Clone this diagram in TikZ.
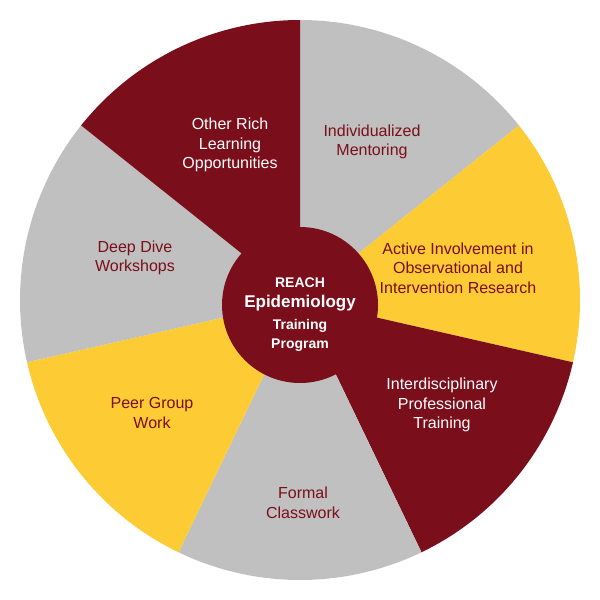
\documentclass[tikz,border=0pt]{standalone}
\usepackage{fontspec}
\setmainfont{Liberation Sans}
\definecolor{maroon}{HTML}{7A0E1B}
\definecolor{grayc}{HTML}{C0C0C0}
\definecolor{yel}{HTML}{FDCB33}
\begin{document}
\begin{tikzpicture}[x=1pt,y=-1pt,
  lab/.style={align=center,font=\fontsize{16}{19.5}\selectfont},
  onlight/.style={lab,text=maroon},
  ondark/.style={lab,text=white}]
\useasboundingbox (0,0) rectangle (600,600);
\coordinate (c) at (300,300);
\foreach \s/\col in {0/grayc,1/yel,2/maroon,3/grayc,4/yel,5/grayc,6/maroon}{
  \pgfmathsetmacro\a{90-51.4286*\s}
  \pgfmathsetmacro\b{90-51.4286*(\s+1)}
  \fill[\col] (c) -- ++(\a:280 and -280) arc[start angle=\a,end angle=\b,x radius=280,y radius=-280] -- cycle;
}
\node[circle,fill=maroon,minimum size=156pt,inner sep=0pt] (hub) at (300,305) {};
\node[ondark,font=\bfseries\fontsize{14}{17}\selectfont] (t1) at (300,283) {REACH};
\node[ondark,font=\bfseries\fontsize{17}{20}\selectfont] (t2) at (300,303) {Epidemiology};
\node[ondark,font=\bfseries\fontsize{14}{19}\selectfont] (t3) at (300,335) {Training\\Program};
\node[ondark] (s7) at (230,145) {Other Rich\\Learning\\Opportunities};
\node[onlight] (s1) at (372,142) {Individualized\\Mentoring};
\node[onlight] (s2) at (458,268) {Active Involvement in\\Observational and\\Intervention Research};
\node[ondark] (s3) at (442,405) {Interdisciplinary\\Professional\\Training};
\node[onlight] (s4) at (303,503) {Formal\\Classwork};
\node[onlight] (s5) at (152,413) {Peer Group\\Work};
\node[onlight] (s6) at (135,258) {Deep Dive\\Workshops};
\end{tikzpicture}
\end{document}
